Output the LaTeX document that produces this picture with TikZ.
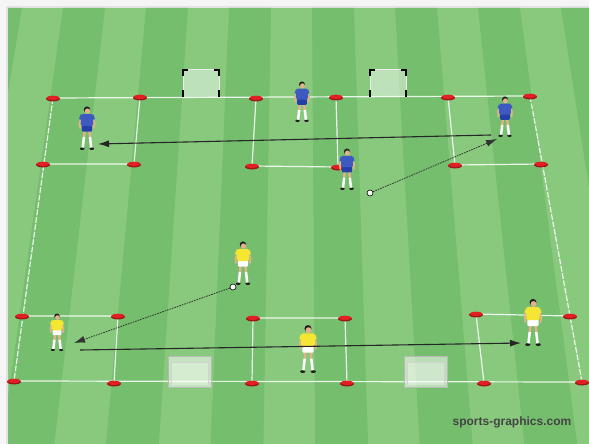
\documentclass[tikz,border=0pt]{standalone}
\usepackage{fontspec}
\setsansfont{Liberation Sans}
\usetikzlibrary{arrows.meta}

\definecolor{grasslight}{RGB}{136,201,126}
\definecolor{grassdark}{RGB}{117,190,109}
\definecolor{conered}{RGB}{226,32,36}
\definecolor{bluekit}{RGB}{62,90,192}
\definecolor{blueshorts}{RGB}{36,64,168}
\definecolor{yellowkit}{RGB}{246,230,52}
\definecolor{skin}{RGB}{228,178,138}
\definecolor{hair}{RGB}{35,30,30}
\definecolor{logo}{RGB}{68,68,68}

\tikzset{
  pics/cone/.style={code={
    \fill[conered!70!black] (0,0.8) ellipse (7 and 2.6);
    \fill[conered] (0,-0.2) ellipse (6.4 and 2.1);
  }},
  pics/player/.style 2 args={code={
    \fill[hair] (-4.8,-1.3) ellipse (2.4 and 1.3);
    \fill[hair] (4.8,-1.3) ellipse (2.4 and 1.3);
    \draw[skin,line width=2.4pt] (-2.4,-20) -- (-3,-13);
    \draw[skin,line width=2.4pt] (2.4,-20) -- (3,-13);
    \draw[white,line width=2.5pt] (-3,-13) -- (-4.2,-2.5);
    \draw[white,line width=2.5pt] (3,-13) -- (4.2,-2.5);
    \draw[skin,line width=1.8pt,line cap=round] (-5,-33) -- (-7.5,-27) -- (-7,-22);
    \draw[skin,line width=1.8pt,line cap=round] (5,-33) -- (7.5,-27) -- (7,-22);
    \fill[#2,rounded corners=1pt] (-5.2,-25) rectangle (5.2,-18.5);
    \fill[#1,rounded corners=1.5pt] (-6.2,-36) rectangle (6.2,-24);
    \fill[#1] (-6.2,-36) -- (-8,-31) -- (-5.4,-30) -- cycle;
    \fill[#1] (6.2,-36) -- (8,-31) -- (5.4,-30) -- cycle;
    \fill[hair] (0,-40.4) circle (3.2);
    \fill[skin] (0.5,-38.9) circle (2.7);
  }},
  pics/backgoal/.style={code={
    \fill[white,opacity=.45] (0,0) rectangle (36,-27);
    \draw[white!85!gray,line width=1pt] (0,0) -- (0,-27) -- (36,-27) -- (36,0);
    \draw[black,line width=1.5pt] (0,-21) -- (0,-27) -- (5,-27) (31,-27) -- (36,-27) -- (36,-21)
      (0,-7) -- (0,0) (36,-7) -- (36,0);
  }},
  pics/frontgoal/.style={code={
    \fill[white,opacity=.5] (0,0) rectangle (43,-31);
    \draw[gray!55,line width=0.8pt] (0,0) rectangle (43,-31);
    \fill[white,opacity=.3] (3,-2) rectangle (40,-25);
    \draw[gray!35,line width=0.6pt] (3,-2) -- (3,-25) -- (40,-25) -- (40,-2);
  }}
}

\begin{document}
\begin{tikzpicture}[x=1pt,y=-1pt,
    line/.style={white,opacity=.85,line width=1.2pt},
    side/.style={line,dash pattern=on 6pt off 1.5pt},
    run/.style={-{Latex[length=11pt,width=7pt]},line width=1.1pt,black!85},
    pass/.style={-{Latex[length=11pt,width=7pt]},dash pattern=on 1.6pt off 1pt,line width=0.8pt,black!80},
    ball/.style={circle,draw=black,fill=white,line width=0.6pt,inner sep=0pt,minimum size=6pt}]
  \useasboundingbox (0,0) rectangle (589,444);
  \fill[gray!8] (0,0) rectangle (589,444);
  \fill[gray!22] (6,6) rectangle (589,444);
  \begin{scope}
    \clip (8,8) rectangle (589,444);
    \fill[grasslight] (8,8) rectangle (589,444);
    \foreach \a in {-20,63,...,600}
      \fill[grassdark] (\a,8) -- (\a+42,8) -- ({300+(\a+42-300)*1.26},444)
        -- ({300+(\a-300)*1.26},444) -- cycle;
  \end{scope}

  \coordinate (t1) at (53,98);  \coordinate (t2) at (140,97);  \coordinate (t3) at (256,98);
  \coordinate (t4) at (336,97); \coordinate (t5) at (448,97);  \coordinate (t6) at (530,96);
  \coordinate (s1) at (43,164); \coordinate (s2) at (134,164); \coordinate (s3) at (252,166);
  \coordinate (s4) at (338,167);\coordinate (s5) at (455,165); \coordinate (s6) at (541,164);
  \coordinate (u1) at (22,316); \coordinate (u2) at (118,316); \coordinate (u3) at (253,318);
  \coordinate (u4) at (345,318);\coordinate (u5) at (476,314); \coordinate (u6) at (570,316);
  \coordinate (b1) at (14,381); \coordinate (b2) at (114,383); \coordinate (b3) at (252,383);
  \coordinate (b4) at (347,383);\coordinate (b5) at (484,383); \coordinate (b6) at (582,382);

  \draw[line] (t1) -- (t6) (b1) -- (b6);
  \draw[side] (t1) -- (b1) (t6) -- (b6);
  \draw[line] (t2) -- (s2) -- (s1) (t3) -- (s3) -- (s4) -- (t4) (t5) -- (s5) -- (s6);
  \draw[line] (u1) -- (u2) -- (b2) (b3) -- (u3) -- (u4) -- (b4) (b5) -- (u5) -- (u6);

  \pic at (183,97) {backgoal};
  \pic at (370,97) {backgoal};
  \pic at (168,387) {frontgoal};
  \pic at (404,387) {frontgoal};

  \foreach \r in {t,s,u,b}
    \foreach \i in {1,...,6}
      \pic at (\r\i) {cone};

  \pic[scale=1.0]  at (87,150)  {player={bluekit}{blueshorts}};
  \pic[scale=0.93] at (302,122) {player={bluekit}{blueshorts}};
  \pic[scale=0.93] at (505,137) {player={bluekit}{blueshorts}};
  \pic[scale=0.95] at (347,190) {player={bluekit}{blueshorts}};
  \pic[scale=1.0]  at (243,285) {player={yellowkit}{white}};
  \pic[scale=0.86] at (57,351)  {player={yellowkit}{white}};
  \pic[scale=1.1]  at (308,373) {player={yellowkit}{white}};
  \pic[scale=1.08] at (533,346) {player={yellowkit}{white}};

  \node[ball] (ballA) at (370,193) {};
  \node[ball] (ballB) at (233,287) {};
  \coordinate (recvA) at (497,139);
  \coordinate (recvB) at (74,343);
  \coordinate (runA) at (491,135);
  \coordinate (endA) at (98,144);
  \coordinate (runB) at (80,350);
  \coordinate (endB) at (521,343);

  \draw[run] (runA) -- (endA);
  \draw[run] (runB) -- (endB);
  \draw[pass] (ballA) -- (recvA);
  \draw[pass] (ballB) -- (recvB);

  \node[font=\sffamily\bfseries\fontsize{12}{14}\selectfont,text=logo] (credit) at (512,422) {sports-graphics.com};
\end{tikzpicture}
\end{document}
